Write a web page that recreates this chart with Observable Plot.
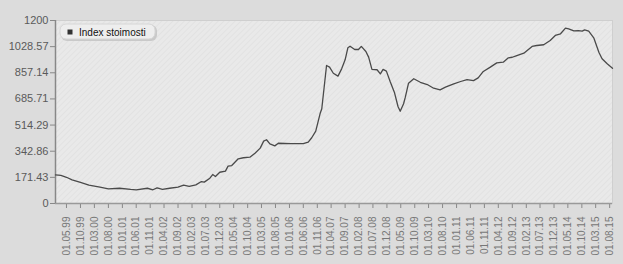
<!DOCTYPE html>
<html>
<head>
<meta charset="utf-8">
<script src="https://cdn.jsdelivr.net/npm/d3@7"></script>
<script src="https://cdn.jsdelivr.net/npm/@observablehq/plot@0.6"></script>
<style>
  html, body { margin: 0; padding: 0; background: #dcdcdc; }
  #chart { width: 623px; height: 264px; }
</style>
</head>
<body>
<div id="chart"></div>
<script>
const seriesName = "Index stoimosti";

const dates = [
  "1999-01-01","1999-03-01","1999-05-01","1999-07-01","1999-10-01","2000-01-01","2000-05-01","2000-08-01",
  "2000-12-01","2001-04-01","2001-06-01","2001-10-01","2001-12-01","2002-01-15","2002-03-15","2002-06-01",
  "2002-09-01","2002-11-01","2003-01-01","2003-03-15","2003-05-15","2003-06-15","2003-08-15","2003-09-15",
  "2003-10-15","2003-12-01","2004-02-01","2004-03-01","2004-04-10","2004-06-20","2004-08-15","2004-10-25",
  "2004-12-20","2005-02-15","2005-03-25","2005-04-25","2005-06-01","2005-07-25","2005-09-01","2006-01-10",
  "2006-06-01","2006-07-25","2006-09-01","2006-10-15","2006-12-01","2006-12-20","2007-02-10","2007-03-15",
  "2007-04-25","2007-06-15","2007-07-25","2007-09-01","2007-10-01","2007-10-25","2007-12-15","2008-01-25",
  "2008-02-25","2008-04-15","2008-05-15","2008-06-20","2008-08-15","2008-09-20","2008-10-20","2008-11-25",
  "2009-01-05","2009-02-20","2009-04-01","2009-04-25","2009-06-01","2009-06-20","2009-07-25","2009-09-20",
  "2009-12-01","2010-02-15","2010-04-25","2010-07-05","2010-09-01","2010-12-01","2011-02-15","2011-04-25",
  "2011-07-05","2011-08-25","2011-10-20","2012-01-05","2012-03-15","2012-05-25","2012-07-20","2012-09-01",
  "2012-10-05","2013-01-05","2013-04-05","2013-05-25","2013-08-10","2013-10-20","2013-12-15","2014-02-10",
  "2014-04-05","2014-05-10","2014-07-05","2014-08-25","2014-10-05","2014-11-01","2014-12-15","2015-02-10",
  "2015-04-05","2015-05-10","2015-07-05","2015-09-01"
];

const values = [
  188,184,172,155,138,120,107,96,
  100,92,90,100,90,103,92,100,
  107,120,113,122,144,140,166,190,
  177,205,212,245,249,293,300,304,
  330,363,409,418,391,378,395,393,
  393,402,431,474,588,621,905,894,
  854,835,883,942,1021,1031,1010,1010,
  1030,997,960,879,877,850,879,868,
  800,730,636,605,654,697,789,818,
  795,780,756,745,763,785,800,813,
  806,824,866,894,922,927,955,959,
  966,986,1030,1036,1041,1069,1102,1113,
  1150,1145,1132,1134,1130,1138,1130,1084,
  992,949,916,887
];

const xTickLabels = [
  "01.05.99","01.10.99","01.03.00","01.08.00","01.01.01","01.06.01","01.11.01","01.04.02",
  "01.09.02","01.02.03","01.07.03","01.12.03","01.05.04","01.10.04","01.03.05","01.08.05",
  "01.01.06","01.06.06","01.11.06","01.04.07","01.09.07","01.02.08","01.07.08","01.12.08",
  "01.05.09","01.10.09","01.03.10","01.08.10","01.01.11","01.06.11","01.11.11","01.04.12",
  "01.09.12","01.02.13","01.07.13","01.12.13","01.05.14","01.10.14","01.03.15","01.08.15"
];

const yTicks = [0, 171.43, 342.86, 514.29, 685.71, 857.14, 1028.57, 1200];
const yTickLabels = ["0", "171.43", "342.86", "514.29", "685.71", "857.14", "1028.57", "1200"];

const xDomain = ["1999-01-01", "2015-09-01"];

const parseTick = d3.utcParse("%d.%m.%y");
const xTicks = xTickLabels.map(parseTick);
const data = dates.map((d, i) => ({date: new Date(d + "T00:00:00Z"), value: values[i]}));

const chart = Plot.plot({
  width: 623,
  height: 264,
  marginTop: 20,
  marginBottom: 61,
  marginLeft: 55,
  marginRight: 11,
  style: {background: "transparent", fontFamily: "'Liberation Sans', Arial, sans-serif", fontSize: "11px", color: "#666"},
  x: {type: "utc", domain: xDomain.map(d => new Date(d + "T00:00:00Z"))},
  y: {domain: [0, 1200]},
  marks: [
    Plot.frame({fill: "url(#hatch)", stroke: "#cfcfcf"}),
    Plot.axisY({
      ticks: yTicks,
      tickFormat: d => yTickLabels[yTicks.indexOf(d)],
      tickSize: 5,
      tickPadding: 2,
      stroke: "#888",
      fill: "#5a5a5a",
      fontSize: 11,
      label: null
    }),
    Plot.axisX({
      ticks: xTicks,
      tickFormat: d => xTickLabels[xTicks.findIndex(t => +t === +d)],
      tickRotate: -90,
      tickSize: 5,
      tickPadding: 8,
      stroke: "#888",
      fill: "#777",
      fontSize: 10,
      label: null
    }),
    Plot.ruleY([0], {stroke: "#999", strokeWidth: 1.5}),
    Plot.ruleX([xDomain[0]].map(d => new Date(d + "T00:00:00Z")), {stroke: "#888", strokeWidth: 1.5}),
    Plot.lineY(data, {x: "date", y: "value", stroke: "#4a4a4a", strokeWidth: 1.3})
  ]
});

const svg = d3.select(chart);
const defs = svg.insert("defs", ":first-child");
const pat = defs.append("pattern")
  .attr("id", "hatch")
  .attr("patternUnits", "userSpaceOnUse")
  .attr("width", 4).attr("height", 4)
  .attr("patternTransform", "rotate(45)");
pat.append("rect").attr("width", 4).attr("height", 4).attr("fill", "#e9e9e9");
pat.append("line").attr("x1", 0).attr("y1", 0).attr("x2", 0).attr("y2", 4)
  .attr("stroke", "#e0e0e0").attr("stroke-width", 1.5);

// legend inside plot area
const lg = svg.append("g");
lg.append("rect").attr("x", 61).attr("y", 25).attr("width", 96).attr("height", 16).attr("rx", 6)
  .attr("fill", "#c9c9c9");
lg.append("rect").attr("x", 60).attr("y", 24).attr("width", 95).attr("height", 15).attr("rx", 6)
  .attr("fill", "#eeeeee").attr("stroke", "#d6d6d6");
lg.append("rect").attr("x", 67.5).attr("y", 29.5).attr("width", 5).attr("height", 5).attr("fill", "#333");
lg.append("text").attr("x", 79).attr("y", 35.5)
  .attr("text-anchor", "start")
  .attr("font-family", "'Liberation Sans', Arial, sans-serif").attr("font-size", 10)
  .attr("fill", "#111").text(seriesName);

document.getElementById("chart").appendChild(chart);
</script>
</body>
</html>
